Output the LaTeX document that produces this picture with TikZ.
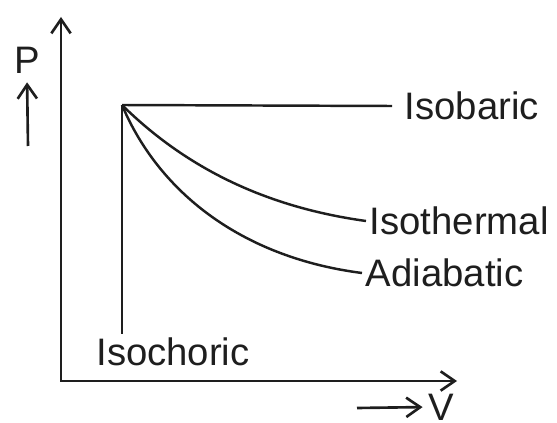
\documentclass[tikz,border=0pt]{standalone}
\usepackage{fontspec}
\setmainfont{Liberation Sans}
\usepackage{tikz}
\usetikzlibrary{arrows.meta, positioning}
\definecolor{inkgray}{RGB}{30,30,30}

\begin{document}
\begin{tikzpicture}[
  x=0.02cm, y=-0.02cm,
  axis/.style={line width=1.5pt, color=inkgray},
  curve/.style={line width=1.4pt, color=inkgray},
  arrow/.style={-{Straight Barb[length=8pt, width=11pt]}, line width=1.5pt, color=inkgray},
  label/.style={font=\fontsize{21.8}{26}\selectfont, color=inkgray, inner sep=2pt}
]
\useasboundingbox (0,0) rectangle (557,422);

% --- Axes ---
\coordinate (origin) at (61,381);
\coordinate (ytip) at (61,17);
\coordinate (xtip) at (457,381);
\draw[axis, {Straight Barb[length=8pt, width=11pt]}-{Straight Barb[length=8pt, width=11pt]}]
  (ytip) -- (origin) -- (xtip);

\node[label] (plabel) at (27,60) {P};
\coordinate (ptail) at (28,146);
\draw[arrow, shorten >=3pt] (ptail) -- (plabel.south);

\node[label, inner sep=0pt] (vlabel) at (441,407) {V};
\coordinate (vtail) at (357,408);
\draw[arrow, shorten >=3pt] (vtail) -- (vlabel.west);

% --- Processes ---
\coordinate (start) at (122,105);
\node[label, anchor=west, inner xsep=7pt] (isobar) at (392,106) {Isobaric};
\node[label, anchor=west] (isotherm) at (366,221) {Isothermal};
\node[label, anchor=west] (adiabat) at (362,273) {Adiabatic};
\node[label] (isochor) at (173,352) {Isochoric};

\draw[curve] (start) -- (isobar.west);
\draw[curve] (start) -- (start |- isochor.north);
\draw[curve] (start) .. controls (190,172) and (272,208) .. (isotherm.west);
\draw[curve] (start) .. controls (160,195) and (245,258) .. (adiabat.west);

\end{tikzpicture}
\end{document}
